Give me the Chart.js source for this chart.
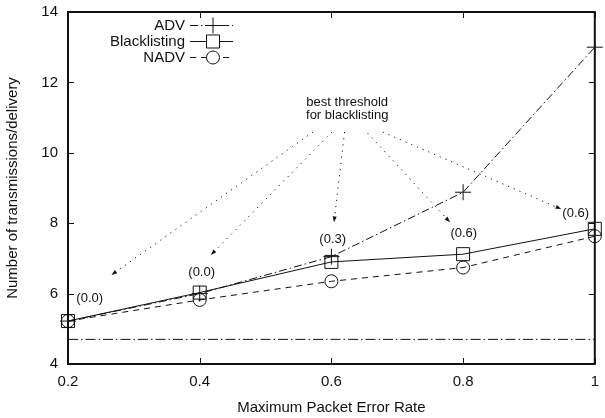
<!DOCTYPE html>
<html>
<head>
<meta charset="utf-8">
<script src="https://cdn.jsdelivr.net/npm/chart.js@4.4.1/dist/chart.umd.min.js"></script>
<style>
  html, body { margin: 0; padding: 0; background: #fff; }
  #wrap { width: 605px; height: 418px; }
</style>
</head>
<body>
<div id="wrap"><canvas id="chart" width="605" height="418"></canvas></div>
<script>
// Values
const errorRates = [0.2, 0.4, 0.6, 0.8, 1.0];
const xTickLabels = ["0.2", "0.4", "0.6", "0.8", "1"];
const yTicks = [4, 6, 8, 10, 12, 14];
const advValues = [5.22, 6.0, 7.05, 8.88, 13.0];
const blacklistValues = [5.22, 6.03, 6.9, 7.12, 7.84];
const nadvValues = [5.22, 5.82, 6.35, 6.74, 7.63];
const baselineX = [0.2, 1.0];
const baselineY = [4.7, 4.7];

// "best threshold" note, labels and arrows (data units)
const noteLines = ["best threshold", "for blacklisting"];
const noteX = 0.624;
const noteY = [11.44, 11.07];
const thresholdLabels = ["(0.0)", "(0.0)", "(0.3)", "(0.6)", "(0.6)"];
const thresholdX = [0.233, 0.403, 0.602, 0.801, 0.971];
const thresholdY = [5.85, 6.59, 7.55, 7.72, 8.29];
const arrowFromX = [0.572, 0.601, 0.620, 0.655, 0.678];
const arrowFromY = [10.59, 10.59, 10.59, 10.56, 10.59];
const arrowToX = [0.266, 0.417, 0.604, 0.780, 0.949];
const arrowToY = [6.53, 7.10, 8.03, 8.03, 8.40];

const FONT = "'Liberation Sans', Arial, Helvetica, sans-serif";
const INK = "#111";

function toPoints(xs, ys) {
  return xs.map((x, i) => ({ x, y: ys[i] }));
}

const series = [
  { label: "ADV", data: advValues, dash: [8, 3, 1.5, 3], style: "cross", radius: 8 },
  { label: "Blacklisting", data: blacklistValues, dash: [], style: "rect", radius: 9.2 },
  { label: "NADV", data: nadvValues, dash: [6, 5], style: "circle", radius: 6.5 }
];

const framePlugin = {
  id: "frame",
  afterDatasetsDraw(chart) {
    const { ctx, chartArea: a, scales: { x, y } } = chart;
    ctx.save();
    ctx.strokeStyle = INK;
    ctx.lineWidth = 1;
    ctx.setLineDash([]);
    ctx.beginPath();
    x.ticks.forEach(t => {
      const px = Math.round(x.getPixelForValue(t.value)) + 0.5;
      ctx.moveTo(px, a.bottom); ctx.lineTo(px, a.bottom - 6);
      ctx.moveTo(px, a.top); ctx.lineTo(px, a.top + 6);
    });
    y.ticks.forEach(t => {
      const py = Math.round(y.getPixelForValue(t.value)) + 0.5;
      ctx.moveTo(a.left, py); ctx.lineTo(a.left + 6, py);
      ctx.moveTo(a.right, py); ctx.lineTo(a.right - 6, py);
    });
    ctx.stroke();
    ctx.lineWidth = 2;
    ctx.strokeRect(a.left, a.top, a.right - a.left, a.bottom - a.top);
    ctx.restore();
  }
};

const notePlugin = {
  id: "note",
  afterDatasetsDraw(chart) {
    const { ctx, scales: { x, y } } = chart;
    ctx.save();
    ctx.fillStyle = INK;
    ctx.font = "13px " + FONT;
    ctx.textAlign = "center";
    ctx.textBaseline = "middle";
    noteLines.forEach((txt, i) => {
      ctx.fillText(txt, x.getPixelForValue(noteX), y.getPixelForValue(noteY[i]));
    });
    thresholdLabels.forEach((txt, i) => {
      ctx.fillText(txt, x.getPixelForValue(thresholdX[i]), y.getPixelForValue(thresholdY[i]));
    });

    ctx.strokeStyle = INK;
    ctx.lineWidth = 1;
    arrowFromX.forEach((fx, i) => {
      const x0 = x.getPixelForValue(fx), y0 = y.getPixelForValue(arrowFromY[i]);
      const x1 = x.getPixelForValue(arrowToX[i]), y1 = y.getPixelForValue(arrowToY[i]);
      const ang = Math.atan2(y1 - y0, x1 - x0);
      ctx.setLineDash([1.2, 5]);
      ctx.beginPath();
      ctx.moveTo(x0, y0);
      ctx.lineTo(x1 - 4 * Math.cos(ang), y1 - 4 * Math.sin(ang));
      ctx.stroke();
      ctx.setLineDash([]);
      ctx.beginPath();
      ctx.moveTo(x1, y1);
      ctx.lineTo(x1 - 6 * Math.cos(ang - 0.35), y1 - 6 * Math.sin(ang - 0.35));
      ctx.lineTo(x1 - 6 * Math.cos(ang + 0.35), y1 - 6 * Math.sin(ang + 0.35));
      ctx.closePath();
      ctx.fillStyle = INK;
      ctx.fill();
    });
    ctx.restore();
  }
};

// gnuplot style key: text right aligned, sample to the right
const keyPlugin = {
  id: "key",
  afterDraw(chart) {
    const { ctx, chartArea: a } = chart;
    const textRight = a.left + 117;
    const lineL = a.left + 122, lineR = a.left + 165, mark = a.left + 145;
    ctx.save();
    ctx.font = "15px " + FONT;
    ctx.textAlign = "right";
    ctx.textBaseline = "middle";
    series.forEach((s, i) => {
      const yy = a.top + 13.5 + i * 16;
      ctx.fillStyle = INK;
      ctx.fillText(s.label, textRight, yy);
      ctx.strokeStyle = INK;
      ctx.lineWidth = 1;
      ctx.setLineDash(s.dash);
      ctx.beginPath();
      ctx.moveTo(lineL, yy);
      ctx.lineTo(lineR, yy);
      ctx.stroke();
      ctx.setLineDash([]);
      ctx.fillStyle = "#fff";
      Chart.helpers.drawPoint(ctx, {
        pointStyle: s.style, radius: s.radius, borderWidth: 1, rotation: 0
      }, mark, yy);
    });
    ctx.restore();
  }
};

const datasets = series.map(s => ({
  label: s.label,
  data: toPoints(errorRates, s.data),
  borderColor: INK,
  backgroundColor: "rgba(0,0,0,0)",
  borderWidth: 1,
  borderDash: s.dash,
  pointStyle: s.style,
  pointRadius: s.radius,
  pointBorderColor: INK,
  pointBackgroundColor: "rgba(0,0,0,0)",
  pointBorderWidth: 1,
  tension: 0,
  clip: false
}));

datasets.push({
  label: "baseline",
  data: toPoints(baselineX, baselineY),
  borderColor: INK,
  borderWidth: 1,
  borderDash: [10, 3, 1.5, 3],
  pointRadius: 0,
  tension: 0
});

new Chart(document.getElementById("chart"), {
  type: "line",
  data: { datasets },
  options: {
    responsive: false,
    animation: false,
    events: [],
    layout: { padding: { top: 12, right: 4, left: 0, bottom: 0 } },
    plugins: {
      legend: { display: false },
      tooltip: { enabled: false }
    },
    scales: {
      x: {
        type: "linear",
        min: 0.2,
        max: 1.0,
        afterFit: scale => {
          scale.height = 54;
          scale.paddingLeft = 0;
          scale.paddingRight = 0;
        },
        afterBuildTicks: scale => { scale.ticks = errorRates.map(v => ({ value: v })); },
        grid: { display: false, drawTicks: false },
        border: { display: false },
        ticks: {
          padding: 9,
          color: INK,
          font: { family: FONT, size: 15 },
          maxRotation: 0,
          callback: (v, i) => xTickLabels[i]
        },
        title: {
          display: true,
          text: "Maximum Packet Error Rate",
          color: INK,
          font: { family: FONT, size: 15 },
          padding: { top: 0, bottom: 1 }
        }
      },
      y: {
        type: "linear",
        min: 4,
        max: 14,
        afterFit: scale => {
          scale.width = 68;
          scale.paddingTop = 0;
          scale.paddingBottom = 0;
        },
        afterBuildTicks: scale => { scale.ticks = yTicks.map(v => ({ value: v })); },
        grid: { display: false, drawTicks: false },
        border: { display: false },
        ticks: {
          padding: 10,
          color: INK,
          font: { family: FONT, size: 15 },
          callback: v => String(v)
        },
        title: {
          display: true,
          text: "Number of transmissions/delivery",
          color: INK,
          font: { family: FONT, size: 15 },
          padding: { top: 4, bottom: 0 }
        }
      }
    }
  },
  plugins: [framePlugin, notePlugin, keyPlugin]
});
</script>
</body>
</html>
